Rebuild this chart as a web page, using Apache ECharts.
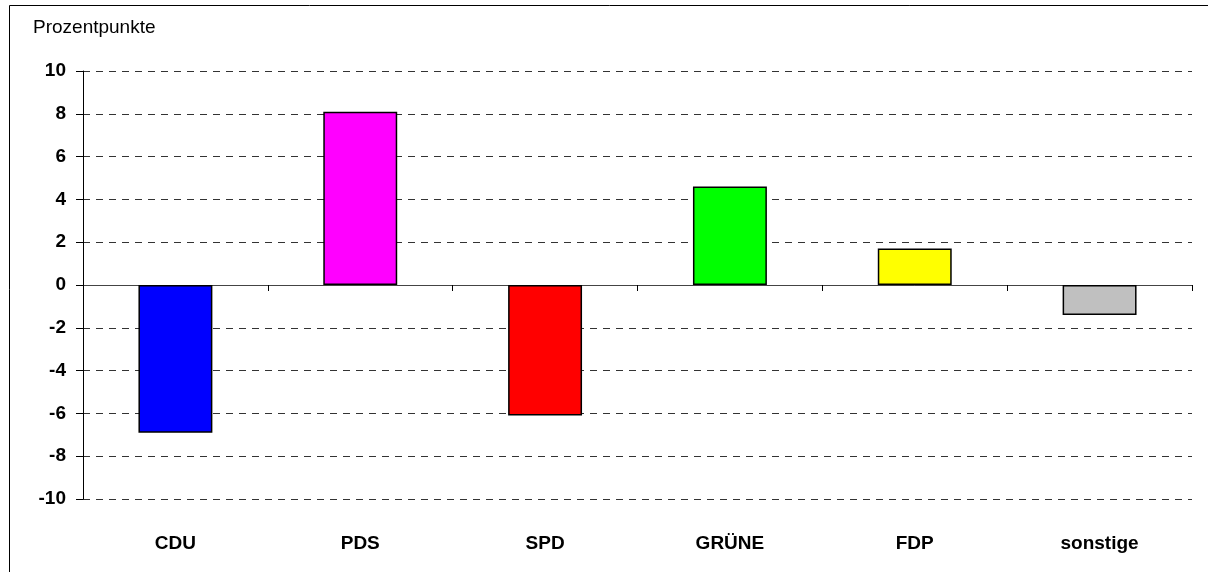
<!DOCTYPE html>
<html><head><meta charset="utf-8">
<script src="https://cdn.jsdelivr.net/npm/echarts@6/dist/echarts.min.js"></script>
<style>html,body{margin:0;padding:0;background:#fff}#c{width:1208px;height:572px}</style>
</head><body><div id="c"></div>
<script>
const categories = ['CDU','PDS','SPD','GRÜNE','FDP','sonstige'];
const values = [-6.9, 8.1, -6.1, 4.6, 1.7, -1.4];
const colors = ['#0000FF','#FF00FF','#FF0000','#00FF00','#FFFF00','#C0C0C0'];
const yTicks = [-10,-8,-6,-4,-2,0,2,4,6,8,10];
const unitLabel = 'Prozentpunkte';

const font = '"Liberation Sans", Arial, sans-serif';
const chart = echarts.init(document.getElementById('c'), null, {renderer:'canvas'});
chart.setOption({
  animation:false,
  backgroundColor:'#fff',
  graphic:[
    {type:'rect', shape:{x:9.5,y:5.5,width:1250,height:700}, style:{fill:'none',stroke:'#000',lineWidth:1}, silent:true},
    {type:'text', left:33, top:18, style:{text:unitLabel, font:'19px '+font, fill:'#000'}}
  ],
  grid:{left:83,right:16,top:71,bottom:73,containLabel:false},
  xAxis:[
    {type:'category', data:categories, position:'bottom',
     axisLine:{show:false,onZero:false}, axisTick:{show:false},
     axisLabel:{margin:35,color:'#000',fontWeight:'bold',fontSize:19,fontFamily:font}},
    {type:'category', data:categories, position:'top',
     axisLine:{show:true,onZero:true,lineStyle:{color:'#444',width:1}},
     axisTick:{show:true,inside:true,length:6,lineStyle:{color:'#000'}},
     axisLabel:{show:false}}
  ],
  yAxis:{type:'value', min:-10, max:10, interval:2,
    axisLine:{show:true,lineStyle:{color:'#000',width:1}},
    axisTick:{show:true,length:7,lineStyle:{color:'#000'}},
    axisLabel:{margin:17,color:'#000',fontWeight:'bold',fontSize:19,fontFamily:font,
      formatter:v=>yTicks.includes(v)?String(v):''},
    splitLine:{show:true,lineStyle:{color:'#333',type:[7,6],width:1}}
  },
  series:[{
    type:'bar', xAxisIndex:0, barWidth:'40%',
    data:values.map((v,i)=>({value:v,itemStyle:{color:colors[i]}})),
    itemStyle:{borderColor:'#000',borderWidth:1.5}
  }]
});
</script></body></html>
